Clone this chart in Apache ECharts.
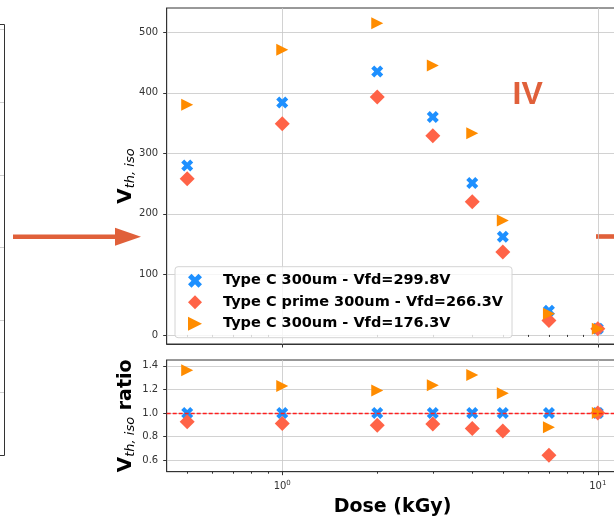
<!DOCTYPE html>
<html>
<head>
<meta charset="utf-8">
<script src="https://cdn.jsdelivr.net/npm/echarts@6.0.0/dist/echarts.min.js"></script>
<style>
  html, body { margin: 0; padding: 0; background: #fff; }
  #chart { width: 614px; height: 516px; }
</style>
</head>
<body>
<div id="chart"></div>
<script>
// dose points (kGy)
const doses = [0.5, 1, 2, 3, 4, 5, 7, 10]

// V_th,iso (V) per sensor
const vthTypeC300 = [280, 384, 435, 360, 251, 162, 40, 10]
const vthTypeCPrime = [258, 349, 393, 329, 220, 137, 24, 10]
const vthTypeC176 = [380, 471, 515, 445, 333, 189, 35, 10]

// ratio to the Type C 299.8V sensor
const ratioTypeC300 = [1.0, 1.0, 1.0, 1.0, 1.0, 1.0, 1.0, 1.0]
const ratioTypeCPrime = [0.924, 0.91, 0.896, 0.905, 0.868, 0.847, 0.639, 1.0]
const ratioTypeC176 = [1.362, 1.229, 1.19, 1.235, 1.322, 1.167, 0.879, 1.0]

const seriesNames = ['Type C 300um - Vfd=299.8V', 'Type C prime 300um - Vfd=266.3V', 'Type C 300um - Vfd=176.3V']
const vthTicks = [0, 100, 200, 300, 400, 500]
const ratioTicks = [0.6, 0.8, 1.0, 1.2, 1.4]
const majorDoseTicks = [1, 10]
const minorDoseTicks = [0.5, 0.6, 0.7, 0.8, 0.9, 2, 3, 4, 5, 6, 7, 8, 9]

const xPath = 'path://M75,0L100,25L75,50L100,75L75,100L50,75L25,100L0,75L25,50L0,25L25,0L50,25Z'
const triPath = 'path://M0,0L100,50L0,100Z'
const symbols = [xPath, 'diamond', triPath]
const symbolSizes = [12, 15, 12]
const colors = ['#1e90ff', '#ff6347', '#ff8c00']

const xMin = 0.4305
const xMax = 11.61
const gridLeft = 166.7
const gridWidth = 451.6
const gridColor = '#c6c6c6'
const frameColor = '#333'
const arrowColor = '#e0603a'
const font = 'DejaVu Sans'

const tickLabel = { fontFamily: font, fontSize: 10, color: '#333' }

function scatter(i, xIdx, yIdx, vals) {
  return {
    type: 'scatter',
    name: seriesNames[i],
    xAxisIndex: xIdx,
    yAxisIndex: yIdx,
    symbol: symbols[i],
    symbolSize: symbolSizes[i],
    itemStyle: { color: colors[i], opacity: 1 },
    data: doses.map((d, k) => [d, vals[k]])
  }
}

function majorX(gridIndex, withLabels) {
  const axis = {
    gridIndex: gridIndex,
    type: 'log',
    logBase: 10,
    min: xMin,
    max: xMax,
    position: 'bottom',
    axisLine: { show: true, onZero: false, lineStyle: { color: frameColor, width: 1 } },
    axisTick: { show: true, length: 3.5, customValues: majorDoseTicks, lineStyle: { color: frameColor } },
    axisLabel: { show: false },
    splitLine: { show: true, lineStyle: { color: gridColor, width: 0.8 } }
  }
  if (withLabels) {
    axis.axisLabel = {
      show: true,
      customValues: majorDoseTicks,
      margin: 8,
      formatter: v => '{b|10}{s|' + Math.round(Math.log10(v)) + '}',
      rich: {
        b: { fontFamily: font, fontSize: 10, color: '#333' },
        s: { fontFamily: font, fontSize: 7, color: '#333', padding: [0, 0, 7, 0] }
      }
    }
    axis.name = 'Dose (kGy)'
    axis.nameLocation = 'middle'
    axis.nameGap = 26
    axis.nameMoveOverlap = false
    axis.nameTextStyle = { fontFamily: font, fontWeight: 'bold', fontSize: 19, color: '#000' }
  }
  return axis
}

function minorX(gridIndex) {
  return {
    gridIndex: gridIndex,
    type: 'log',
    logBase: 10,
    min: xMin,
    max: xMax,
    position: 'bottom',
    offset: 0,
    axisLine: { show: false },
    axisTick: { show: true, length: 2, customValues: minorDoseTicks, lineStyle: { color: frameColor } },
    axisLabel: { show: false },
    splitLine: { show: false }
  }
}

const nameRich = {
  v: { fontFamily: font, fontWeight: 'bold', fontSize: 20, color: '#000' },
  s: { fontFamily: font, fontStyle: 'italic', fontSize: 13, color: '#000', padding: [9, 0, 0, 0] },
  r: { fontFamily: font, fontWeight: 'bold', fontSize: 19, color: '#000' }
}

const chart = echarts.init(document.getElementById('chart'))
chart.setOption({
  animation: false,
  backgroundColor: '#fff',
  grid: [
    { left: gridLeft, top: 8, width: gridWidth, height: 336, outerBoundsMode: 'none', show: true, borderColor: frameColor, borderWidth: 1 },
    { left: gridLeft, top: 360, width: gridWidth, height: 111.7, outerBoundsMode: 'none', show: true, borderColor: frameColor, borderWidth: 1 }
  ],
  xAxis: [majorX(0, false), minorX(0), majorX(1, true), minorX(1)],
  yAxis: [
    {
      gridIndex: 0,
      type: 'value',
      min: -15,
      max: 540,
      axisLine: { show: true, onZero: false, lineStyle: { color: frameColor, width: 1 } },
      axisTick: { show: true, length: 3.5, customValues: vthTicks, lineStyle: { color: frameColor } },
      axisLabel: Object.assign({ customValues: vthTicks, margin: 8.5 }, tickLabel),
      splitLine: { show: true, lineStyle: { color: gridColor, width: 0.8 } },
      name: '{v|V}{s|th, iso}',
      nameLocation: 'middle',
      nameGap: 30,
      nameMoveOverlap: false,
      nameTextStyle: { rich: nameRich }
    },
    {
      gridIndex: 1,
      type: 'value',
      min: 0.5,
      max: 1.45,
      axisLine: { show: true, onZero: false, lineStyle: { color: frameColor, width: 1 } },
      axisTick: { show: true, length: 3.5, customValues: ratioTicks, lineStyle: { color: frameColor } },
      axisLabel: Object.assign({ customValues: ratioTicks, margin: 8.5, formatter: v => v.toFixed(1) }, tickLabel),
      splitLine: { show: true, lineStyle: { color: gridColor, width: 0.8 } },
      name: '{v|V}{s|th, iso}{r| ratio}',
      nameLocation: 'middle',
      nameGap: 30,
      nameMoveOverlap: false,
      nameTextStyle: { rich: nameRich }
    }
  ],
  legend: {
    left: 175,
    top: 266.7,
    orient: 'vertical',
    selectedMode: false,
    data: seriesNames.map((n, i) => ({ name: n, icon: symbols[i] })),
    itemWidth: 14,
    itemHeight: 14,
    itemGap: 6.5,
    padding: [6.5, 9, 6.5, 13],
    backgroundColor: 'rgba(255,255,255,0.8)',
    borderColor: '#d4d4d4',
    borderWidth: 1,
    borderRadius: 3,
    textStyle: { fontFamily: font, fontWeight: 'bold', fontSize: 14.5, color: '#000', padding: [0, 0, 0, 16] },
    z: 10
  },
  series: [
    scatter(0, 0, 0, vthTypeC300),
    scatter(1, 0, 0, vthTypeCPrime),
    scatter(2, 0, 0, vthTypeC176),
    Object.assign(scatter(0, 2, 1, ratioTypeC300), {
      markLine: {
        silent: true,
        symbol: 'none',
        label: { show: false },
        lineStyle: { color: '#ff1f1f', type: [4, 2], width: 1.3, opacity: 1 },
        emphasis: { disabled: true },
        data: [{ yAxis: 1 }]
      }
    }),
    scatter(1, 2, 1, ratioTypeCPrime),
    scatter(2, 2, 1, ratioTypeC176)
  ],
  graphic: [
    // edge of the neighbouring panel on the left
    { type: 'polyline', shape: { points: [[0, 24.5], [4.5, 24.5], [4.5, 455.5], [0, 455.5]] }, style: { stroke: frameColor, fill: null, lineWidth: 1 } },
    ...[29.5, 102.5, 175.5, 247.5, 320.5, 392.5].map(y => ({
      type: 'line', shape: { x1: 0, y1: y, x2: 4, y2: y }, style: { stroke: '#cfcfcf', lineWidth: 1 }
    })),
    // arrows
    { type: 'line', shape: { x1: 13, y1: 236.7, x2: 117, y2: 236.7 }, style: { stroke: arrowColor, lineWidth: 4.6 } },
    { type: 'polygon', shape: { points: [[115, 227.7], [141, 236.7], [115, 245.7]] }, style: { fill: arrowColor } },
    { type: 'line', shape: { x1: 596, y1: 236.5, x2: 614, y2: 236.5 }, style: { stroke: arrowColor, lineWidth: 4.6 } },
    { type: 'text', x: 512.5, y: 95, z: 20, style: { text: 'IV', font: 'bold 32px "Liberation Sans"', fill: arrowColor, align: 'left', verticalAlign: 'middle' } }
  ]
})
</script>
</body>
</html>
